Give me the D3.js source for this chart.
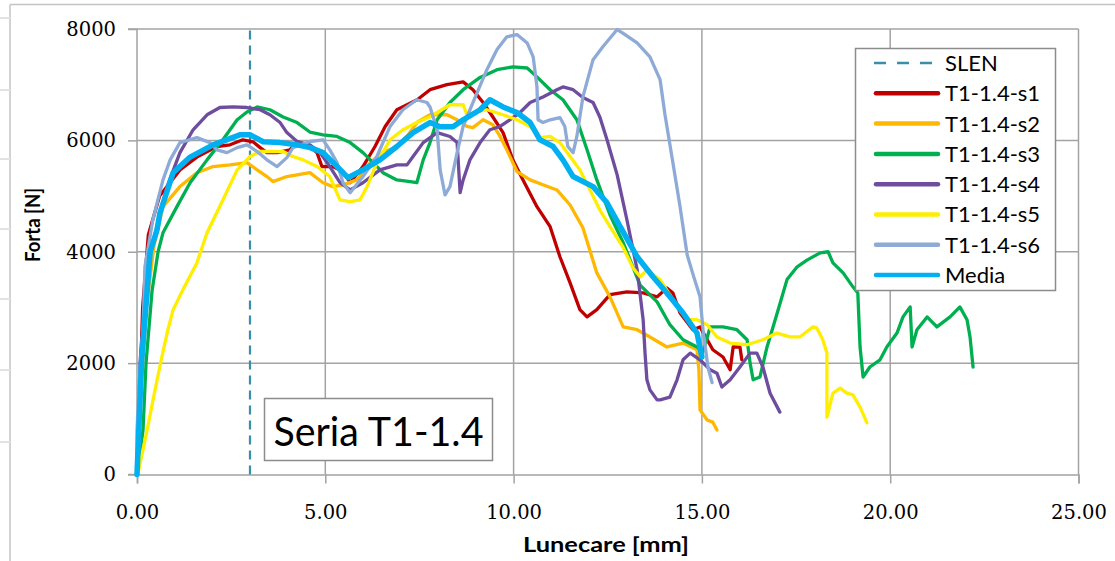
<!DOCTYPE html>
<html>
<head>
<meta charset="utf-8">
<script src="https://cdn.jsdelivr.net/npm/d3@7/dist/d3.min.js"></script>
<style>
  html, body { margin: 0; padding: 0; background: #fff; }
  svg { display: block; }
</style>
</head>
<body>
<svg id="chart" width="1115" height="561"></svg>
<script>
// Force–displacement curves, series T1-1.4 ([mm], [N])
const seriesNames = ["SLEN", "T1-1.4-s1", "T1-1.4-s2", "T1-1.4-s3", "T1-1.4-s4", "T1-1.4-s5", "T1-1.4-s6", "Media"];
const seriesColors = ["#3a8fa6", "#c00000", "#ffb800", "#00b050", "#6e4c9e", "#ffee00", "#8eaad6", "#00b0f0"];

const xTicks = [0, 5, 10, 15, 20, 25];
const yTicks = [0, 2000, 4000, 6000, 8000];

const slen = [[3.0, 0], [3.0, 8000]];

const s1 = [[0,0],[0.08,1500],[0.15,3000],[0.3,4300],[0.6,5000],[1.14,5470],[1.59,5700],[2.12,5890],[2.47,5920],[2.81,6010],[3.08,5975],[3.27,5870],[3.45,5780],[3.72,5780],[4.06,5830],[4.25,5975],[4.59,5890],[4.78,5780],[4.91,5530],[5.2,5530],[5.47,5440],[5.66,5240],[6.0,5530],[6.32,5890],[6.59,6250],[6.9,6550],[7.44,6730],[7.78,6910],[8.23,7000],[8.66,7050],[8.92,6910],[9.19,6680],[9.45,6420],[9.72,6140],[9.98,5650],[10.25,5290],[10.62,4810],[10.97,4450],[11.23,3910],[11.5,3440],[11.76,2960],[11.95,2830],[12.21,2960],[12.56,3230],[13.01,3280],[13.44,3260],[13.81,3190],[14.07,3350],[14.23,3260],[14.42,2900],[14.76,2600],[14.95,2650],[15.29,2240],[15.56,2110],[15.75,1880],[15.83,2290],[16.01,2290],[16.06,2060]];

const s2 = [[0,0],[0.1,1500],[0.25,3000],[0.45,4100],[0.69,4810],[1.14,5170],[1.59,5420],[2.02,5530],[2.47,5560],[2.92,5600],[3.19,5470],[3.45,5350],[3.61,5260],[3.98,5350],[4.25,5380],[4.59,5420],[4.94,5240],[5.2,5170],[5.47,5200],[5.84,5290],[6.19,5600],[6.53,5780],[6.9,5890],[7.2,6100],[7.45,6330],[7.78,6460],[8.23,6460],[8.5,6370],[8.76,6250],[8.92,6230],[9.19,6370],[9.45,6280],[9.64,6070],[9.82,5830],[10.09,5440],[10.44,5290],[10.83,5190],[11.15,5110],[11.5,4840],[11.84,4430],[12.21,3620],[12.56,3190],[12.91,2650],[13.28,2600],[13.62,2470],[14.07,2290],[14.5,2360],[14.87,2240],[14.92,1880],[14.95,1160],[15.14,980],[15.29,940],[15.4,800]];

const s3 = [[0,0],[0.16,800],[0.24,2000],[0.4,3300],[0.56,4000],[0.69,4340],[1.06,4810],[1.41,5240],[1.86,5650],[2.28,6010],[2.66,6370],[2.92,6510],[3.19,6600],[3.53,6550],[3.88,6420],[4.25,6320],[4.59,6150],[4.94,6100],[5.31,6070],[5.66,5960],[6.0,5780],[6.27,5600],[6.53,5420],[6.9,5290],[7.25,5260],[7.43,5240],[7.6,5650],[7.78,5960],[7.97,6370],[8.31,6680],[8.66,6910],[9.11,7130],[9.56,7270],[9.98,7320],[10.36,7300],[10.62,7140],[10.97,6910],[11.31,6730],[11.68,6370],[11.95,5830],[12.21,5290],[12.56,4660],[12.9,4180],[13.36,3400],[13.81,3100],[14.15,2690],[14.5,2420],[14.87,2290],[15.03,2200],[15.22,2650],[15.56,2650],[15.93,2600],[16.2,2420],[16.28,2000],[16.36,1700],[16.54,1750],[16.73,2290],[17.0,2900],[17.26,3500],[17.53,3730],[17.79,3850],[18.14,3980],[18.35,4000],[18.48,3800],[18.75,3620],[19.01,3370],[19.14,3260],[19.2,2290],[19.28,1750],[19.46,1930],[19.73,2060],[19.91,2290],[20.18,2540],[20.34,2830],[20.53,3010],[20.58,2290],[20.71,2600],[20.98,2830],[21.24,2650],[21.59,2830],[21.85,3010],[22.04,2780],[22.12,2470],[22.2,1930]];

const s4 = [[0,0],[0.08,2000],[0.27,3730],[0.53,4450],[0.8,5170],[1.14,5780],[1.49,6190],[1.86,6460],[2.2,6590],[2.55,6600],[2.92,6590],[3.27,6550],[3.53,6460],[3.8,6320],[3.98,6140],[4.25,5980],[4.59,5920],[4.86,5780],[5.12,5530],[5.39,5240],[5.66,5110],[6.0,5240],[6.45,5470],[6.9,5560],[7.17,5560],[7.33,5710],[7.6,5960],[7.97,6140],[8.31,6070],[8.5,5960],[8.58,5060],[8.66,5290],[8.84,5650],[9.11,5960],[9.37,6190],[9.64,6250],[9.9,6370],[10.17,6500],[10.44,6680],[10.78,6780],[11.15,6910],[11.31,6960],[11.58,6910],[11.84,6770],[12.11,6680],[12.29,6420],[12.48,6010],[12.75,5380],[13.01,4570],[13.28,3680],[13.44,2780],[13.49,2180],[13.54,1700],[13.62,1520],[13.81,1340],[13.89,1340],[14.15,1390],[14.34,1700],[14.5,2060],[14.69,2180],[14.95,2060],[15.22,1880],[15.4,1820],[15.53,1570],[15.75,1700],[16.01,1930],[16.28,2180],[16.46,2180],[16.62,1930],[16.81,1460],[17.07,1120]];

const s5 = [[0,0],[0.03,30],[0.27,800],[0.48,1520],[0.66,2110],[0.82,2600],[0.96,2960],[1.22,3320],[1.59,3800],[1.86,4340],[2.28,4930],[2.66,5470],[3.0,5710],[3.27,5800],[3.61,5800],[3.88,5800],[4.14,5710],[4.41,5650],[4.78,5530],[5.12,5350],[5.39,4930],[5.66,4900],[5.92,4930],[6.11,5170],[6.37,5600],[6.72,6010],[7.06,6190],[7.43,6320],[7.78,6420],[8.31,6640],[8.66,6640],[8.76,6460],[9.03,6510],[9.29,6550],[9.72,6460],[10.09,6370],[10.44,6250],[10.7,6050],[10.97,6070],[11.23,5960],[11.5,5710],[11.76,5470],[12.03,5110],[12.29,4750],[12.56,4450],[12.9,4090],[13.17,3710],[13.36,3550],[13.54,3670],[13.89,3500],[14.23,3140],[14.61,2780],[14.87,2780],[15.14,2690],[15.4,2470],[15.75,2360],[16.2,2330],[16.62,2420],[16.99,2540],[17.34,2470],[17.6,2470],[17.95,2650],[18.05,2630],[18.21,2420],[18.32,2180],[18.32,1030],[18.48,1460],[18.67,1550],[18.85,1460],[19.01,1430],[19.2,1210],[19.38,930]];

const s6 = [[0,0],[0,800],[0.08,1880],[0.16,2600],[0.21,3730],[0.42,4570],[0.69,5290],[0.88,5650],[1.14,5960],[1.59,6050],[1.94,5960],[2.12,5830],[2.39,5780],[2.66,5870],[2.92,5920],[3.19,5800],[3.45,5650],[3.72,5530],[3.98,5690],[4.14,5870],[4.59,5980],[4.94,6010],[5.12,5830],[5.31,5600],[5.47,5240],[5.66,5060],[6.0,5350],[6.37,5710],[6.72,6250],[7.06,6550],[7.43,6730],[7.7,6680],[7.78,6600],[7.97,6190],[8.05,5470],[8.18,5020],[8.31,5170],[8.5,5780],[8.66,6250],[8.92,6680],[9.29,7270],[9.56,7630],[9.82,7860],[10.09,7900],[10.36,7750],[10.52,7500],[10.62,6960],[10.65,6370],[10.78,6320],[10.97,6370],[11.23,6410],[11.36,6250],[11.44,5890],[11.58,5780],[11.68,6070],[11.84,6780],[12.11,7450],[12.37,7680],[12.75,7990],[12.91,7920],[13.28,7750],[13.62,7500],[13.89,7090],[14.02,6460],[14.23,5600],[14.42,4810],[14.61,3940],[14.77,3580],[14.95,3190],[15.03,2600],[15.16,1930],[15.27,1650]];

const media = [[0,0],[0.12,2000],[0.35,4000],[0.53,4390],[0.61,4700],[0.96,5420],[1.41,5700],[2.02,5920],[2.73,6100],[3.0,6100],[3.35,5975],[3.8,5960],[4.25,5920],[4.6,5870],[4.94,5780],[5.31,5530],[5.6,5330],[6.0,5470],[6.45,5650],[6.9,5890],[7.33,6140],[7.78,6320],[8.05,6245],[8.39,6245],[8.66,6370],[9.11,6550],[9.37,6730],[9.72,6600],[10.09,6500],[10.44,6320],[10.7,6010],[11.05,5890],[11.31,5650],[11.58,5350],[12.11,5170],[12.48,4880],[12.83,4450],[13.28,3910],[13.7,3550],[14.07,3260],[14.5,2900],[14.87,2540],[15.0,2110]];

const seriesData = [slen, s1, s2, s3, s4, s5, s6, media];

const svg = d3.select("#chart");
const W = 1115, H = 561;
const plot = { left: 137, right: 1078.5, top: 29, bottom: 474.5 };

const x = d3.scaleLinear().domain([0, 25]).range([plot.left, plot.right]);
const y = d3.scaleLinear().domain([0, 8000]).range([plot.bottom, plot.top]);

svg.append("rect").attr("width", W).attr("height", H).attr("fill", "#fff");

// outer frame of the chart object, with the sheet's faint row lines to its left
svg.append("line").attr("x1", 10).attr("x2", W).attr("y1", 4.5).attr("y2", 4.5)
  .attr("stroke", "#c4c4c4").attr("stroke-width", 1.5);
svg.append("line").attr("x1", 10).attr("x2", 10).attr("y1", 4.5).attr("y2", H)
  .attr("stroke", "#c4c4c4").attr("stroke-width", 1.5);
const sheetRows = [18, 90, 159, 229, 299, 370, 442];
svg.selectAll("line.row").data(sheetRows).join("line")
  .attr("x1", 0).attr("x2", 10).attr("y1", d => d).attr("y2", d => d)
  .attr("stroke", "#e2e2e2").attr("stroke-width", 2);

const gridColor = "#a3a3a3";

// gridlines
const grid = svg.append("g");
grid.selectAll("line.h").data(yTicks.filter(d => d > 0)).join("line")
  .attr("x1", plot.left).attr("x2", plot.right)
  .attr("y1", d => y(d)).attr("y2", d => y(d))
  .attr("stroke", gridColor).attr("stroke-width", 1.5);
grid.selectAll("line.v").data(xTicks.filter(d => d > 0)).join("line")
  .attr("x1", d => x(d)).attr("x2", d => x(d))
  .attr("y1", plot.top).attr("y2", plot.bottom)
  .attr("stroke", gridColor).attr("stroke-width", 1.5);

// axes
const xAxis = d3.axisBottom(x).tickValues(xTicks).tickSize(9).tickPadding(22)
  .tickFormat(d3.format(".2f"));
const yAxis = d3.axisLeft(y).tickValues(yTicks).tickSize(9).tickPadding(12)
  .tickFormat(d => String(d));

const gx = svg.append("g").attr("transform", `translate(0,${plot.bottom})`).call(xAxis);
const gy = svg.append("g").attr("transform", `translate(${plot.left},0)`).call(yAxis);
[gx, gy].forEach(g => {
  g.select(".domain").attr("stroke", gridColor).attr("stroke-width", 1.5);
  g.selectAll(".tick line").attr("stroke", gridColor).attr("stroke-width", 1.5);
  g.selectAll("text").attr("fill", "#000")
    .style("font-family", "'DejaVu Serif', serif").style("font-size", "19.5px");
});
gy.select(".domain").attr("d", `M-9,${plot.top}H0V${plot.bottom}H-9`);

// axis titles
svg.append("text").attr("x", 606).attr("y", 552).attr("text-anchor", "middle")
  .attr("textLength", 166).attr("lengthAdjust", "spacingAndGlyphs")
  .style("font-family", "Lato, sans-serif").style("font-weight", "bold").style("font-size", "20px")
  .text("Lunecare [mm]");
svg.append("text").attr("transform", "translate(40,225) rotate(-90)").attr("text-anchor", "middle")
  .attr("textLength", 74).attr("lengthAdjust", "spacingAndGlyphs")
  .style("font-family", "Lato, sans-serif").style("font-weight", "bold").style("font-size", "20px")
  .text("Forta [N]");

// curves
const line = d3.line().x(d => x(d[0])).y(d => y(d[1]));
const curves = svg.append("g").attr("fill", "none").attr("stroke-linejoin", "round").attr("stroke-linecap", "round");
seriesData.forEach((data, i) => {
  const name = seriesNames[i];
  const p = curves.append("path").datum(data).attr("d", line)
    .attr("stroke", seriesColors[i])
    .attr("stroke-width", name === "Media" ? 5.5 : (name === "SLEN" ? 2.2 : 3.3));
  if (name === "SLEN") p.attr("stroke-dasharray", "9,6").attr("stroke-linecap", "butt");
});

// series label box
const box = svg.append("g");
box.append("rect").attr("x", 264.5).attr("y", 398.5).attr("width", 228).attr("height", 62)
  .attr("fill", "#fff").attr("stroke", "#8c8c8c").attr("stroke-width", 1.5);
box.append("text").attr("x", 378.5).attr("y", 446).attr("text-anchor", "middle")
  .attr("textLength", 210).attr("lengthAdjust", "spacingAndGlyphs")
  .style("font-family", "Lato, sans-serif").style("font-size", "41px").attr("fill", "#000")
  .text("Seria T1-1.4");

// legend
const legend = svg.append("g");
legend.append("rect").attr("x", 855.5).attr("y", 48.5).attr("width", 200).attr("height", 242)
  .attr("fill", "#fff").attr("stroke", "#8c8c8c").attr("stroke-width", 1.5);
seriesNames.forEach((name, i) => {
  const ly = 63 + i * 30.3;
  const l = legend.append("line").attr("x1", 876).attr("x2", 938).attr("y1", ly).attr("y2", ly)
    .attr("stroke", seriesColors[i])
    .attr("stroke-width", name === "SLEN" ? 2.5 : 4.5).attr("stroke-linecap", "round");
  if (name === "SLEN") l.attr("x1", 874).attr("stroke-dasharray", "12,11").attr("stroke-linecap", "butt");
  legend.append("text").attr("x", 945).attr("y", ly).attr("dy", "0.36em")
    .style("font-family", "Lato, sans-serif").style("font-size", "22px").attr("fill", "#000")
    .text(name);
});
</script>
</body>
</html>
